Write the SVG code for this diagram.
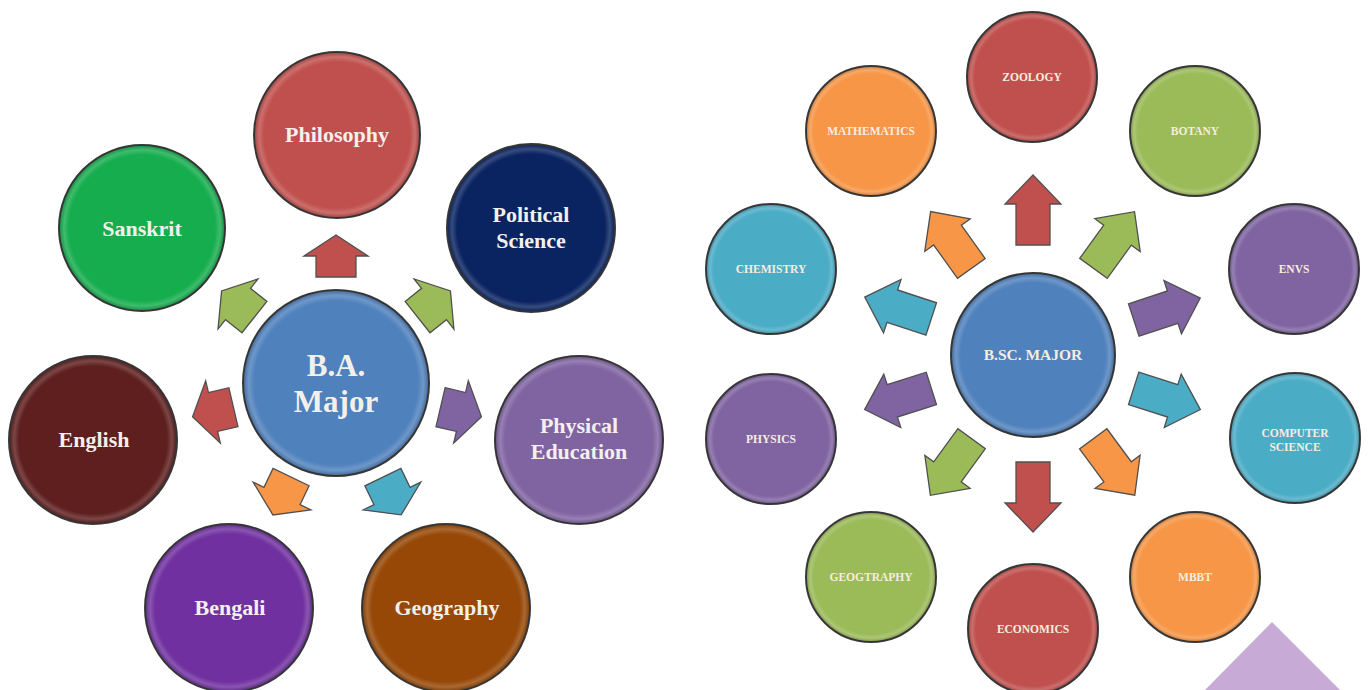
<svg xmlns="http://www.w3.org/2000/svg" xmlns:xlink="http://www.w3.org/1999/xlink" width="1371" height="690" viewBox="0 0 1371 690">
<style>
  .base{stroke:#3a3a3a;stroke-width:2}
  .rim{stroke:none}
  .ba{font-family:"Liberation Serif","Times New Roman",serif;font-weight:bold;fill:#F3F0EC;text-anchor:middle}
  .bs{font-family:"Liberation Serif","Times New Roman",serif;font-weight:bold;fill:#F6ECDF;text-anchor:middle;font-size:11.5px}
  .bs.hub{font-size:15.5px}
  .arr{stroke:#505050;stroke-width:1.3;stroke-linejoin:miter}
  .red{fill:#C0504D}.grn{fill:#9BBB59}.pur{fill:#8064A2}.org{fill:#F79646}.tea{fill:#4BACC6}
</style>
<defs>
  <radialGradient id="gloss" cx="0.5" cy="0.5" r="0.5">
    <stop offset="0" stop-color="#ffffff" stop-opacity="0"/>
    <stop offset="0.88" stop-color="#ffffff" stop-opacity="0"/>
    <stop offset="0.94" stop-color="#ffffff" stop-opacity="0.18"/>
    <stop offset="1" stop-color="#000000" stop-opacity="0.2"/>
  </radialGradient>
  <path id="aS" d="M-21,-20 L0,-20 L0,-32 L21,0 L0,32 L0,20 L-21,20 Z"/>
  <path id="aL" d="M-35,-17 L6,-17 L6,-28 L35,0 L6,28 L6,17 L-35,17 Z"/>
</defs>
<rect width="1371" height="690" fill="#ffffff"/>

<g id="connectors">
  <use href="#aS" class="arr red" transform="translate(336,256) rotate(-90)"/>
  <use href="#aS" class="arr grn" transform="translate(238,304) rotate(-141.4)"/>
  <use href="#aS" class="arr grn" transform="translate(434,304) rotate(-38.5)"/>
  <use href="#aS" class="arr red" transform="translate(213,412) rotate(166.8)"/>
  <use href="#aS" class="arr pur" transform="translate(461,412) rotate(13.2)"/>
  <use href="#aS" class="arr org" transform="translate(282,496) rotate(115.6)"/>
  <use href="#aS" class="arr tea" transform="translate(392,496) rotate(64.2)"/>

  <use href="#aL" class="arr red" transform="translate(1033,210) rotate(-90)"/>
  <use href="#aL" class="arr org" transform="translate(951,240) rotate(-125.6)"/>
  <use href="#aL" class="arr grn" transform="translate(1114,240) rotate(-54.1)"/>
  <use href="#aL" class="arr tea" transform="translate(898,308) rotate(-161.8)"/>
  <use href="#aL" class="arr pur" transform="translate(1167,309) rotate(-18.2)"/>
  <use href="#aL" class="arr pur" transform="translate(898,399) rotate(162.4)"/>
  <use href="#aL" class="arr tea" transform="translate(1167,399) rotate(17.6)"/>
  <use href="#aL" class="arr grn" transform="translate(951,467) rotate(126.1)"/>
  <use href="#aL" class="arr red" transform="translate(1033,497) rotate(90)"/>
  <use href="#aL" class="arr org" transform="translate(1114,467) rotate(53.6)"/>
</g>

<!-- B.A. side -->
<g id="ba-major">
  <circle class="base" cx="336" cy="383" r="93" fill="#4F81BD"/>
  <circle class="rim" cx="336" cy="383" r="93" fill="url(#gloss)"/>
  <text class="ba" x="336" y="376" font-size="31">B.A.</text>
  <text class="ba" x="336" y="412" font-size="31">Major</text>
</g>
<g id="philosophy">
  <circle class="base" cx="337" cy="135" r="83" fill="#C0504D"/>
  <circle class="rim" cx="337" cy="135" r="83" fill="url(#gloss)"/>
  <text class="ba" x="337" y="142" font-size="22">Philosophy</text>
</g>
<g id="sanskrit">
  <circle class="base" cx="142" cy="228" r="83" fill="#16AD4E"/>
  <circle class="rim" cx="142" cy="228" r="83" fill="url(#gloss)"/>
  <text class="ba" x="142" y="236" font-size="22">Sanskrit</text>
</g>
<g id="political-science">
  <circle class="base" cx="531" cy="228" r="84" fill="#0A2462"/>
  <circle class="rim" cx="531" cy="228" r="84" fill="url(#gloss)"/>
  <text class="ba" x="531" y="222" font-size="22">Political</text>
  <text class="ba" x="531" y="248" font-size="22">Science</text>
</g>
<g id="english">
  <circle class="base" cx="93" cy="440" r="84" fill="#5E1F1E"/>
  <circle class="rim" cx="93" cy="440" r="84" fill="url(#gloss)"/>
  <text class="ba" x="94" y="447" font-size="22">English</text>
</g>
<g id="physical-education">
  <circle class="base" cx="579" cy="440" r="84" fill="#8064A2"/>
  <circle class="rim" cx="579" cy="440" r="84" fill="url(#gloss)"/>
  <text class="ba" x="579" y="433" font-size="22">Physical</text>
  <text class="ba" x="579" y="459" font-size="22">Education</text>
</g>
<g id="bengali">
  <circle class="base" cx="229" cy="608" r="84" fill="#7030A0"/>
  <circle class="rim" cx="229" cy="608" r="84" fill="url(#gloss)"/>
  <text class="ba" x="230" y="615" font-size="22">Bengali</text>
</g>
<g id="geography-ba">
  <circle class="base" cx="446" cy="608" r="84" fill="#974806"/>
  <circle class="rim" cx="446" cy="608" r="84" fill="url(#gloss)"/>
  <text class="ba" x="447" y="615" font-size="22">Geography</text>
</g>

<!-- B.Sc side -->
<g id="bsc-major">
  <circle class="base" cx="1033" cy="355" r="82" fill="#4F81BD"/>
  <circle class="rim" cx="1033" cy="355" r="82" fill="url(#gloss)"/>
  <text class="bs hub" x="1033" y="360">B.SC. MAJOR</text>
</g>
<g id="zoology">
  <circle class="base" cx="1032" cy="77" r="65" fill="#C0504D"/>
  <circle class="rim" cx="1032" cy="77" r="65" fill="url(#gloss)"/>
  <text class="bs" x="1032" y="81">ZOOLOGY</text>
</g>
<g id="mathematics">
  <circle class="base" cx="871" cy="131" r="65" fill="#F79646"/>
  <circle class="rim" cx="871" cy="131" r="65" fill="url(#gloss)"/>
  <text class="bs" x="871" y="135">MATHEMATICS</text>
</g>
<g id="botany">
  <circle class="base" cx="1195" cy="131" r="65" fill="#9BBB59"/>
  <circle class="rim" cx="1195" cy="131" r="65" fill="url(#gloss)"/>
  <text class="bs" x="1195" y="135">BOTANY</text>
</g>
<g id="chemistry">
  <circle class="base" cx="771" cy="269" r="65" fill="#4BACC6"/>
  <circle class="rim" cx="771" cy="269" r="65" fill="url(#gloss)"/>
  <text class="bs" x="771" y="273">CHEMISTRY</text>
</g>
<g id="envs">
  <circle class="base" cx="1294" cy="269" r="65" fill="#8064A2"/>
  <circle class="rim" cx="1294" cy="269" r="65" fill="url(#gloss)"/>
  <text class="bs" x="1294" y="273">ENVS</text>
</g>
<g id="physics">
  <circle class="base" cx="771" cy="439" r="65" fill="#8064A2"/>
  <circle class="rim" cx="771" cy="439" r="65" fill="url(#gloss)"/>
  <text class="bs" x="771" y="443">PHYSICS</text>
</g>
<g id="computer-science">
  <circle class="base" cx="1295" cy="438" r="65" fill="#4BACC6"/>
  <circle class="rim" cx="1295" cy="438" r="65" fill="url(#gloss)"/>
  <text class="bs" x="1295" y="437">COMPUTER</text>
  <text class="bs" x="1295" y="451">SCIENCE</text>
</g>
<g id="geography-bsc">
  <circle class="base" cx="871" cy="577" r="65" fill="#9BBB59"/>
  <circle class="rim" cx="871" cy="577" r="65" fill="url(#gloss)"/>
  <text class="bs" x="871" y="581">GEOGTRAPHY</text>
</g>
<g id="economics">
  <circle class="base" cx="1033" cy="629" r="65" fill="#C0504D"/>
  <circle class="rim" cx="1033" cy="629" r="65" fill="url(#gloss)"/>
  <text class="bs" x="1033" y="633">ECONOMICS</text>
</g>
<g id="mbbt">
  <circle class="base" cx="1195" cy="577" r="65" fill="#F79646"/>
  <circle class="rim" cx="1195" cy="577" r="65" fill="url(#gloss)"/>
  <text class="bs" x="1195" y="581">MBBT</text>
</g>

<polygon points="1205,690 1272,622 1340,690" fill="#C8AAD6"/>
</svg>
